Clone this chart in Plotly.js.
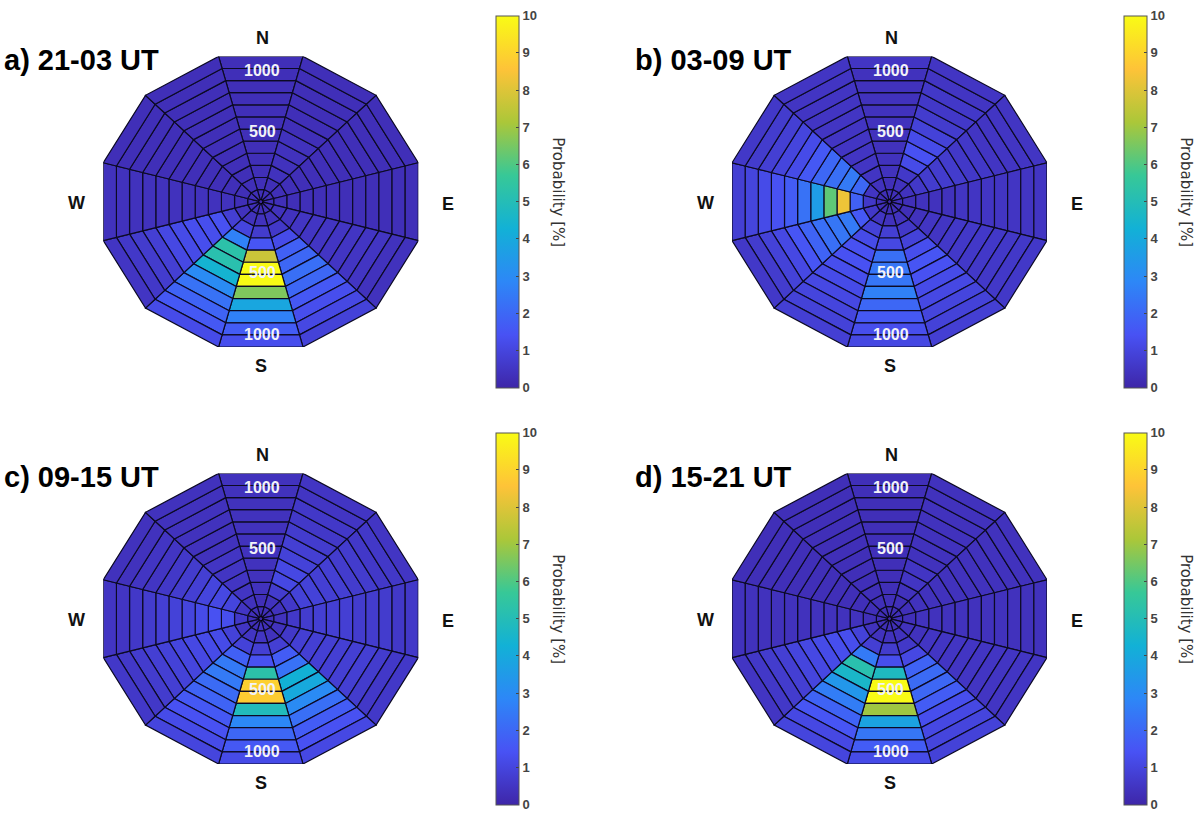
<!DOCTYPE html>
<html><head><meta charset="utf-8">
<script src="https://cdn.plot.ly/plotly-3.0.1.min.js"></script>
<style>html,body{margin:0;padding:0;background:#fff}#chart{width:1200px;height:822px}</style>
</head><body><div id="chart"></div>
<script>
// Each row is one 30-degree sector, clockwise from N; each value one 100-km ring, inner to outer.
const panelA = [
[.3,.3,.3,.3,.3,.3,.3,.3,.3,.3,.3,.3],
[.3,.3,.4,.4,.4,.4,.3,.3,.3,.3,.3,.3],
[.3,.3,.3,.3,.3,.3,.3,.3,.3,.3,.3,.3],
[.3,.3,.3,.3,.3,.3,.3,.3,.3,.3,.3,.3],
[.3,.4,.4,.5,.5,.5,.5,.5,.5,.5,.4,.4],
[.3,.4,.6,1.2,1.8,2.0,2.2,2.0,1.6,1.3,1.1,.9],
[.3,.4,.7,1.5,7.7,10,10,6.6,3.9,2.7,1.7,1.3],
[.3,.4,1.0,2.7,5.3,5.2,4.4,3.0,2.3,1.9,1.6,1.2],
[.3,.4,.8,1.4,1.3,1.3,1.2,1.1,.8,.7,.6,.5],
[.3,.3,.4,.4,.4,.4,.4,.4,.4,.4,.4,.4],
[.3,.3,.3,.3,.3,.3,.3,.3,.3,.3,.3,.3],
[.3,.3,.3,.3,.3,.3,.3,.3,.3,.3,.3,.3]];
const panelB = [
[.3,.3,.4,.4,.4,.4,.4,.4,.4,.4,.4,.5],
[.3,.4,.6,1.2,1.4,1.2,.9,.7,.6,.6,.5,.5],
[.3,.4,.6,.7,.7,.7,.6,.6,.5,.5,.5,.5],
[.3,.3,.4,.4,.4,.5,.5,.5,.5,.5,.5,.5],
[.3,.3,.4,.5,.5,.6,.6,.6,.6,.6,.6,.6],
[.3,.4,.6,.9,1.3,1.5,1.4,1.2,1.1,1.0,.9,.8],
[.3,.4,.8,1.1,2.2,2.4,2.4,2.7,2.0,1.6,1.3,1.1],
[.3,.5,.9,1.2,1.4,1.4,1.3,1.2,1.1,1.0,.9,.8],
[.3,.6,1.6,2.5,2.4,2.2,1.9,1.5,1.1,.9,.7,.6],
[.3,.6,1.8,8.3,6.2,3.6,2.3,1.7,1.4,1.2,1.0,.8],
[.3,.5,2.0,2.5,2.2,2.0,1.6,1.2,1.0,.8,.7,.6],
[.3,.4,.5,.5,.5,.5,.5,.5,.5,.5,.5,.5]];
const panelC = [
[.3,.3,.4,.4,.4,.4,.4,.4,.4,.4,.4,.4],
[.3,.4,.7,1.1,1.1,.9,.8,.7,.6,.6,.5,.5],
[.3,.4,.6,.9,.9,.8,.8,.7,.7,.6,.6,.5],
[.3,.4,.6,.7,.8,.8,.8,.7,.7,.7,.6,.6],
[.3,.4,.6,.8,.8,.8,.8,.8,.8,.7,.6,.6],
[.3,.4,.8,1.7,2.3,4.3,4.0,3.0,2.2,1.7,1.4,1.1],
[.4,.5,.8,1.4,5.3,8.9,8.8,4.9,2.9,2.0,1.6,1.2],
[.3,.5,.9,1.8,2.5,2.5,2.1,1.9,1.6,1.4,1.2,1.0],
[.3,.5,.9,1.2,1.2,1.1,1.0,.9,.8,.7,.6,.6],
[.3,.6,1.3,1.4,1.2,1.0,.9,.8,.7,.6,.5,.5],
[.3,.5,1.0,1.1,1.0,.8,.7,.6,.5,.5,.4,.4],
[.3,.4,.5,.5,.5,.5,.4,.4,.4,.4,.4,.4]];
const panelD = [
[.3,.3,.3,.3,.3,.3,.3,.3,.3,.3,.3,.3],
[.3,.3,.4,.5,.5,.4,.4,.4,.4,.4,.4,.4],
[.3,.3,.4,.4,.4,.4,.4,.4,.4,.4,.4,.4],
[.3,.3,.4,.4,.4,.4,.4,.4,.4,.4,.4,.4],
[.3,.4,.4,.5,.5,.5,.5,.5,.5,.5,.5,.5],
[.3,.4,.6,1.1,1.9,2.1,2.0,1.7,1.3,1.1,1.0,.9],
[.3,.4,.7,1.3,4.8,10,10,7.0,3.8,2.4,1.7,1.2],
[.3,.4,.8,2.5,5.2,4.6,3.4,2.6,1.9,1.5,1.1,1.0],
[.3,.4,.9,1.3,1.3,1.2,1.1,1.0,.8,.7,.6,.5],
[.3,.3,.4,.4,.4,.4,.4,.4,.4,.4,.4,.4],
[.3,.3,.3,.3,.3,.3,.3,.3,.3,.3,.3,.3],
[.3,.3,.3,.3,.3,.3,.3,.3,.3,.3,.3,.3]];
const panelValues = [panelA, panelB, panelC, panelD];
const panelTitles = ['a) 21-03 UT','b) 03-09 UT','c) 09-15 UT','d) 15-21 UT'];
const compassLabels = ['N','S','W','E'];
const rangeLabels = [500, 1000];
const colorbarTicks = [0,1,2,3,4,5,6,7,8,9,10];
const colorbarTitle = 'Probability [%]';
const parula = ['#3e26a8','#4852f4','#2d87f7','#12b1d6','#37c897','#abc739','#fec338','#f9fb15'];

const W = 1200, H = 822;
const sectorStep = 30, ringStep = 100, maxRange = 1200, zMax = 10;
const geom = [
  {cx:260.8, cy:201.7, titleX:2,   titleY:60,  barX:496},
  {cx:889.5, cy:201.7, titleX:633, titleY:60,  barX:1124},
  {cx:260.8, cy:618.7, titleX:2,   titleY:477, barX:496},
  {cx:889.5, cy:618.7, titleX:633, titleY:477, barX:1124}
];
const Rx = 157.5, Ry = 145.3;
const apothem = maxRange*Math.cos(15*Math.PI/180);
const labelY = {500:[564,-561], 1000:[1043,-1061]};

const scale = parula.map((c,i)=>[i/(parula.length-1), c]);
function rgb(h){return [1,3,5].map(i=>parseInt(h.substr(i,2),16));}
function colorOf(v){
  const t = Math.min(1,Math.max(0,v/zMax))*(parula.length-1);
  const i = Math.min(parula.length-2,Math.floor(t)), f = t-i;
  const a = rgb(parula[i]), b = rgb(parula[i+1]);
  return 'rgb('+a.map((x,k)=>Math.round(x+(b[k]-x)*f)).join(',')+')';
}
const polar = (r,deg)=>[r*Math.sin(deg*Math.PI/180), r*Math.cos(deg*Math.PI/180)];

const data = [], annotations = [], layout = {
  width:W, height:H, margin:{l:0,r:0,t:0,b:0}, paper_bgcolor:'#fff', plot_bgcolor:'#fff',
  showlegend:false, hovermode:false, annotations
};
const fx = px=>px/W, fy = py=>1-py/H;

panelValues.forEach((values,p)=>{
  const g = geom[p], n = p+1, xa = 'x'+(n===1?'':n), ya = 'y'+(n===1?'':n);
  const ax = {visible:false, range:[-apothem,apothem], fixedrange:true, showgrid:false, zeroline:false};
  layout['xaxis'+(n===1?'':n)] = Object.assign({domain:[fx(g.cx-Rx),fx(g.cx+Rx)], anchor:ya},ax);
  layout['yaxis'+(n===1?'':n)] = Object.assign({domain:[fy(g.cy+Ry),fy(g.cy-Ry)], anchor:xa},ax);
  values.forEach((row,s)=>{
    const th = s*sectorStep;
    row.forEach((v,k)=>{
      const r0 = k*ringStep, r1 = (k+1)*ringStep;
      const pts = [polar(r0,th-15),polar(r1,th-15),polar(r1,th+15),polar(r0,th+15),polar(r0,th-15)];
      data.push({type:'scatter', mode:'lines', xaxis:xa, yaxis:ya, cliponaxis:false,
        x:pts.map(q=>q[0]), y:pts.map(q=>q[1]), fill:'toself', fillcolor:colorOf(v),
        line:{color:'#0c0a24',width:1.2}, hoverinfo:'skip'});
    });
  });
  data.push({type:'scatter', mode:'markers', xaxis:xa, yaxis:ya, x:[0], y:[0], hoverinfo:'skip',
    marker:{size:4, color:[0], cmin:0, cmax:zMax, colorscale:scale, showscale:true,
      line:{width:1,color:'#000'},
      colorbar:{x:fx(g.barX), xanchor:'left', xpad:0, ypad:0, y:fy(g.cy), yanchor:'middle',
        thickness:23, thicknessmode:'pixels', len:372, lenmode:'pixels',
        outlinecolor:'#555', outlinewidth:1, tickvals:colorbarTicks, ticktext:colorbarTicks.map(String),
        tickprefix:'\u00A0', showtickprefix:'all', ticks:'inside', ticklen:3, tickcolor:'#444',
        tickfont:{family:'Liberation Sans',size:13,color:'#444',weight:'bold'}}}});
  annotations.push({xref:'paper',yref:'paper',x:fx(g.titleX),y:fy(g.titleY),xanchor:'left',yanchor:'middle',showarrow:false,
    text:'<b>'+panelTitles[p]+'</b>',font:{family:'Liberation Sans',size:29,color:'#000'}});
  const compass = [[g.cx+2,g.cy-164],[g.cx,g.cy+164],[g.cx-184,g.cy+1],[g.cx+187,g.cy+2]];
  compassLabels.forEach((t,i)=>annotations.push({xref:'paper',yref:'paper',x:fx(compass[i][0]),y:fy(compass[i][1]),showarrow:false,
    xanchor:'center',yanchor:'middle',text:'<b>'+t+'</b>',font:{family:'Liberation Sans',size:18,color:'#111'}}));
  rangeLabels.forEach(rl=>{
    labelY[rl].forEach(yv=>annotations.push({xref:xa,yref:ya,x:10,y:yv,showarrow:false,xanchor:'center',yanchor:'middle',
      text:'<b>'+rl+'</b>',font:{family:'Liberation Sans',size:16,color:'#f2f2f8'}}));
  });
  annotations.push({xref:'paper',yref:'paper',x:fx(g.barX+62.5),y:fy(g.cy-10),showarrow:false,textangle:90,xanchor:'center',yanchor:'middle',
    text:colorbarTitle,font:{family:'DejaVu Sans',size:15,color:'#333'}});
});
Plotly.newPlot('chart',data,layout,{staticPlot:true,displayModeBar:false});
</script></body></html>
